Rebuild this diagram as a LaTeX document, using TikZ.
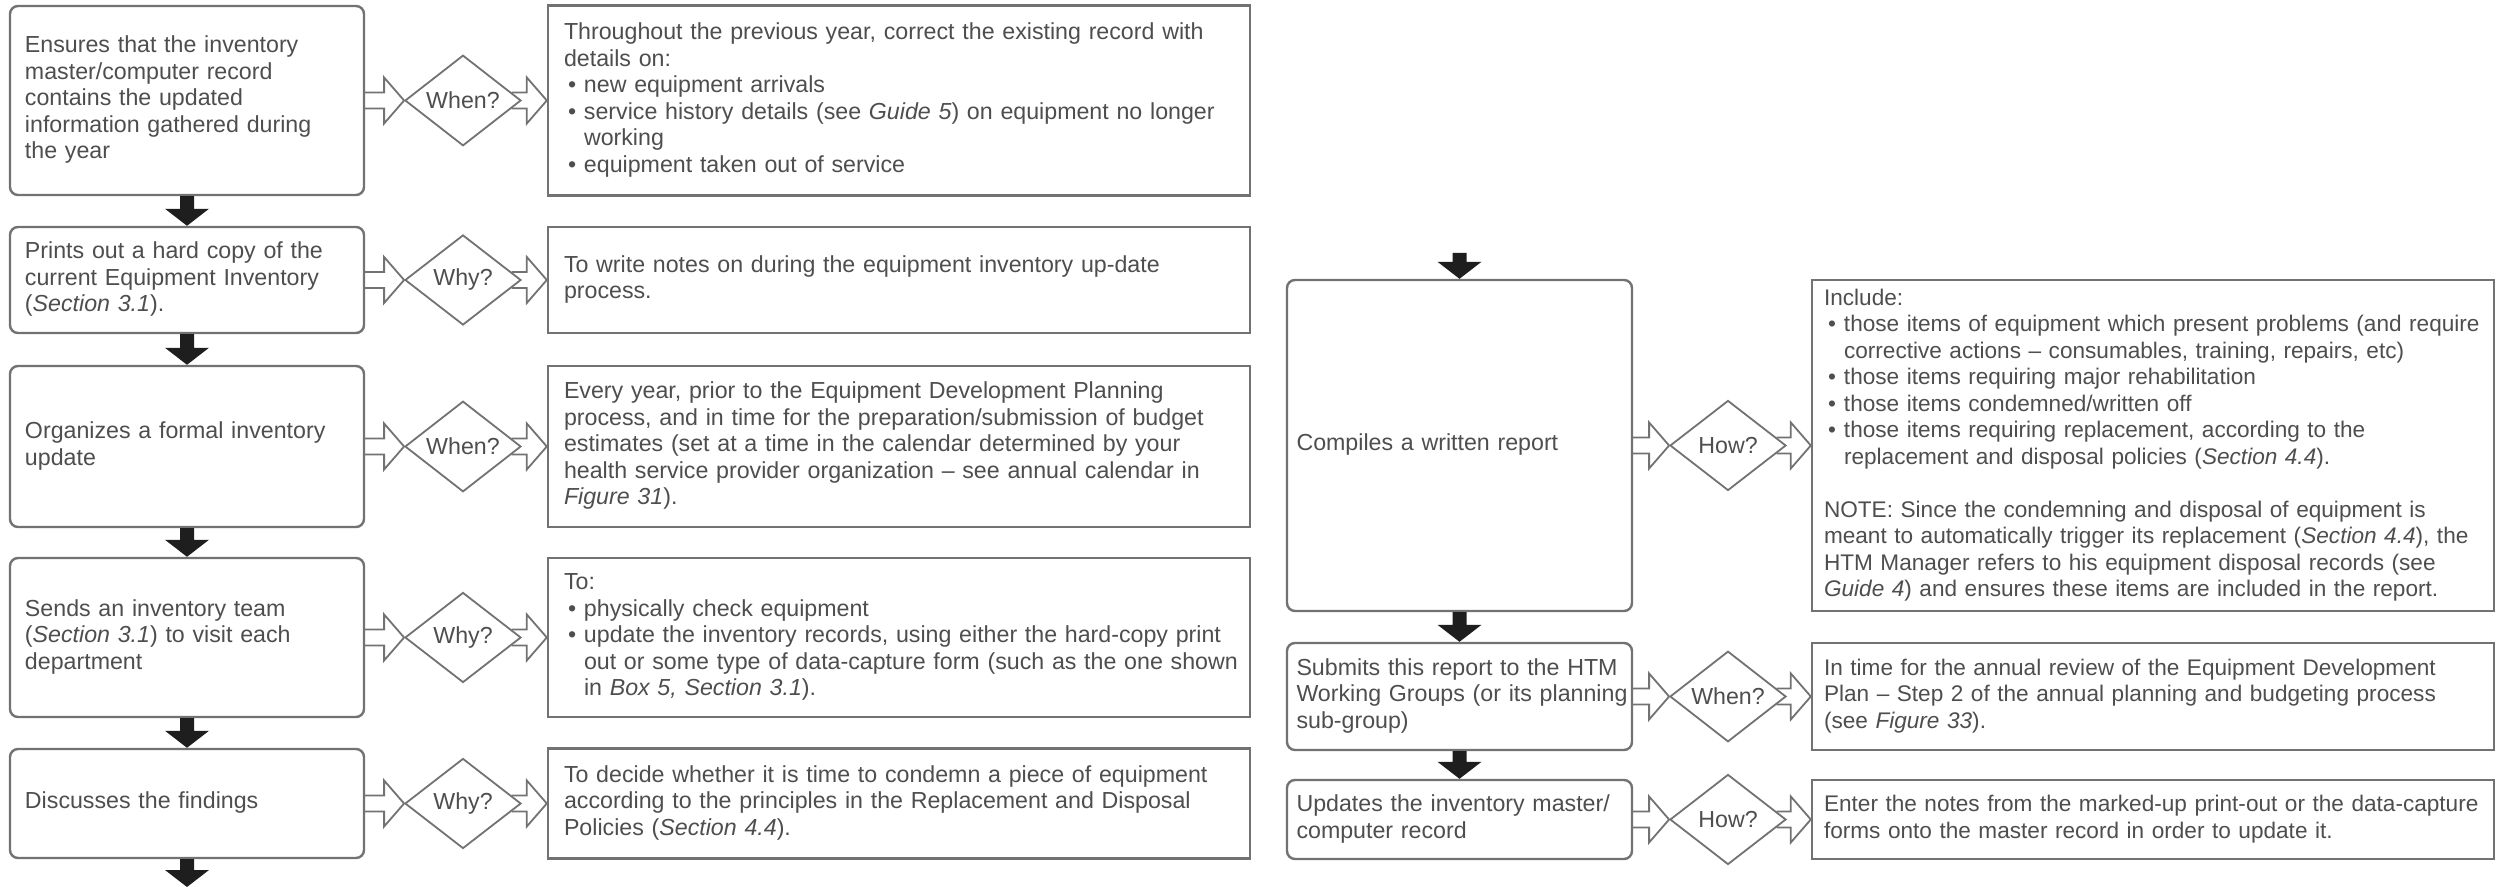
\documentclass[tikz,border=0pt]{standalone}
\usepackage{fontspec}
\setmainfont{Liberation Sans}
\usetikzlibrary{shapes.geometric,calc}
\definecolor{txt}{HTML}{4E4E4E}
\definecolor{ln}{HTML}{727272}
\definecolor{blk}{HTML}{1E1E1E}
\newcommand{\bu}{\makebox[10pt][l]{\hspace{2pt}\textbullet}}
\newcommand{\ind}{\hspace*{10pt}}
\newcommand{\tb}[1]{\begin{tabular}{@{}l@{}}#1\end{tabular}}
\newcommand{\harrow}[2]{\path[harr] let \p1=#1, \p2=#2 in
  (\x1,\y1+4pt) -- (\x2-10pt,\y1+4pt) -- (\x2-10pt,\y1+11.5pt) -- (\x2,\y1)
  -- (\x2-10pt,\y1-11.5pt) -- (\x2-10pt,\y1-4pt) -- (\x1,\y1-4pt);}
\newcommand{\darrow}[2]{\fill[barr] let \p1=#1, \p2=#2 in
  (\x1-3.5pt,\y1) -- (\x1-3.5pt,\y2+8.5pt) -- (\x1-11pt,\y2+8.5pt) -- (\x1,\y2)
  -- (\x1+11pt,\y2+8.5pt) -- (\x1+3.5pt,\y2+8.5pt) -- (\x1+3.5pt,\y1) -- cycle;}
\begin{document}
\begin{tikzpicture}[x=0.5pt,y=-0.5pt,
  font=\fontsize{11.6}{13.25}\selectfont,
  box/.style={draw=ln, line width=1.2pt, text=txt, align=left, inner ysep=0pt},
  lbox/.style={box, rounded corners=4pt, text width=162pt, inner xsep=7.5pt},
  rbox/.style={box, rounded corners=4pt, text width=163pt, inner xsep=4.75pt},
  ltext/.style={box, text width=335pt, inner xsep=8pt},
  rtext/.style={box, text width=329pt, inner xsep=6pt, font=\fontsize{11.3}{13.25}\selectfont},
  dia/.style={diamond, draw=ln, line width=0.9pt, text=txt, minimum width=58pt,
    minimum height=45pt, inner sep=0pt},
  harr/.style={draw=ln, line width=0.9pt, line join=miter},
  barr/.style={fill=blk, draw=none}]
\fill[white] (0,0) rectangle (2496,887);
\useasboundingbox (0,0) rectangle (2496,887);

% ---------- left column ----------
\node[lbox, minimum height=94.5pt] (L1) at (187,100.5) {\tb{Ensures that the inventory\\ master/computer record\\ contains the updated\\ information gathered during\\ the year}};
\node[lbox, minimum height=53pt] (L2) at (187,280) {\tb{Prints out a hard copy of the\\ current Equipment Inventory\\ (\textit{Section 3.1}).}};
\node[lbox, minimum height=80.5pt] (L3) at (187,446.5) {\tb{Organizes a formal inventory\\ update}};
\node[lbox, minimum height=79.5pt] (L4) at (187,637.5) {\tb{Sends an inventory team\\ (\textit{Section 3.1}) to visit each\\ department}};
\node[lbox, minimum height=54.5pt] (L5) at (187,803.5) {\tb{Discusses the findings}};
\coordinate (lbot) at (187,887);

\node[dia] (D1) at (463,100.5) {When?};
\node[dia] (D2) at (463,280) {Why?};
\node[dia] (D3) at (463,446.5) {When?};
\node[dia] (D4) at (463,637.5) {Why?};
\node[dia] (D5) at (463,803.5) {Why?};

\node[ltext, minimum height=95pt] (T1) at (899,100.5) {\tb{Throughout the previous year, correct the existing record with\\ details on:\\ \bu new equipment arrivals\\ \bu service history details (see \textit{Guide 5}) on equipment no longer\\ \ind working\\ \bu equipment taken out of service}};
\node[ltext, minimum height=53pt] (T2) at (899,280) {\tb{To write notes on during the equipment inventory up-date\\ process.}};
\node[ltext, minimum height=80.5pt] (T3) at (899,446.5) {\tb{Every year, prior to the Equipment Development Planning\\ process, and in time for the preparation/submission of budget\\ estimates (set at a time in the calendar determined by your\\ health service provider organization -- see annual calendar in\\ \textit{Figure 31}).}};
\node[ltext, minimum height=79.5pt] (T4) at (899,637.5) {\tb{To:\\ \bu physically check equipment\\ \bu update the inventory records, using either the hard-copy print\\ \ind out or some type of data-capture form (such as the one shown\\ \ind in \textit{Box 5, Section 3.1}).}};
\node[ltext, minimum height=55pt] (T5) at (899,803.5) {\tb{To decide whether it is time to condemn a piece of equipment\\ according to the principles in the Replacement and Disposal\\ Policies (\textit{Section 4.4}).}};

% ---------- right column ----------
\coordinate (rtop) at (1459.5,253);
\node[rbox, minimum height=165.5pt] (R1) at (1459.5,445.5) {\tb{Compiles a written report}};
\node[rbox, minimum height=53.5pt] (R2) at (1459.5,696.5) {\tb{Submits this report to the HTM\\ Working Groups (or its planning\\ sub-group)}};
\node[rbox, minimum height=39.5pt] (R3) at (1459.5,819.5) {\tb{Updates the inventory master/\\ computer record}};

\node[dia] (RD1) at (1728,445.5) {How?};
\node[dia] (RD2) at (1728,696.5) {When?};
\node[dia] (RD3) at (1728,819.5) {How?};

\node[rtext, minimum height=165.5pt] (RT1) at (2153,445.5) {\tb{Include:\\ \bu those items of equipment which present problems (and require\\ \ind corrective actions -- consumables, training, repairs, etc)\\ \bu those items requiring major rehabilitation\\ \bu those items condemned/written off\\ \bu those items requiring replacement, according to the\\ \ind replacement and disposal policies (\textit{Section 4.4}).\\[13.25pt] NOTE: Since the condemning and disposal of equipment is\\ meant to automatically trigger its replacement (\textit{Section 4.4}), the\\ HTM Manager refers to his equipment disposal records (see\\ \textit{Guide 4}) and ensures these items are included in the report.}};
\node[rtext, minimum height=53.5pt] (RT2) at (2153,696.5) {\tb{In time for the annual review of the Equipment Development\\ Plan -- Step 2 of the annual planning and budgeting process\\ (see \textit{Figure 33}).}};
\node[rtext, minimum height=39.5pt] (RT3) at (2153,819.5) {\tb{Enter the notes from the marked-up print-out or the data-capture\\ forms onto the master record in order to update it.}};

% ---------- black flow arrows ----------
\darrow{(L1.south)}{(L2.north)}
\darrow{(L2.south)}{(L3.north)}
\darrow{(L3.south)}{(L4.north)}
\darrow{(L4.south)}{(L5.north)}
\darrow{(L5.south)}{(lbot)}
\darrow{(rtop)}{(R1.north)}
\darrow{(R1.south)}{(R2.north)}
\darrow{(R2.south)}{(R3.north)}

% ---------- hollow arrows ----------
\foreach \a/\d/\t in {L1/D1/T1, L2/D2/T2, L3/D3/T3, L4/D4/T4, L5/D5/T5, R1/RD1/RT1, R2/RD2/RT2, R3/RD3/RT3}{
  \harrow{(\a.east)}{(\d.west)}
  \harrow{([xshift=-5.2pt]\d.east)}{(\t.west)}
}
\end{tikzpicture}
\end{document}
